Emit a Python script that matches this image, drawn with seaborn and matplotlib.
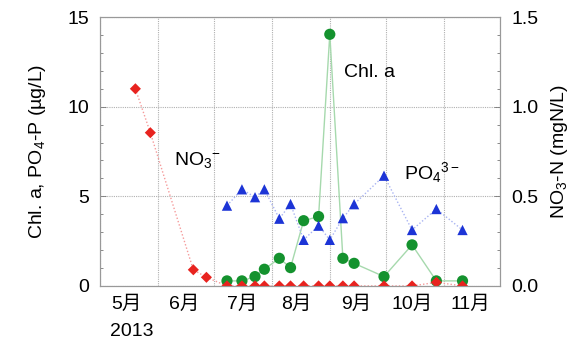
import matplotlib
matplotlib.use("Agg")
import matplotlib.pyplot as plt
import matplotlib.dates as mdates
from matplotlib.ticker import MultipleLocator
import seaborn as sns
import pandas as pd

sns.set_theme(style="white")
plt.rcParams['font.family'] = ['Liberation Sans', 'Noto Sans CJK JP', 'DejaVu Sans']
plt.rcParams['mathtext.fontset'] = 'custom'
plt.rcParams['mathtext.rm'] = 'Liberation Sans'
plt.rcParams['mathtext.it'] = 'Liberation Sans'
plt.rcParams['text.color'] = 'black'
plt.rcParams['axes.labelcolor'] = 'black'

# PO4-P (µg/L), left axis
po4_dates = ['2013-05-20', '2013-05-28', '2013-06-20', '2013-06-27',
             '2013-07-08', '2013-07-16', '2013-07-23', '2013-07-28',
             '2013-08-05', '2013-08-11', '2013-08-18', '2013-08-26',
             '2013-09-01', '2013-09-08', '2013-09-14', '2013-09-30',
             '2013-10-15', '2013-10-28', '2013-11-11']
po4_vals = [11.0, 8.55, 0.9, 0.48, 0.0, 0.0, 0.0, 0.0, 0.0, 0.0, 0.0, 0.0,
            0.0, 0.0, 0.0, 0.0, 0.0, 0.2, 0.0]

# Chl. a (µg/L), left axis
chl_dates = ['2013-07-08', '2013-07-16', '2013-07-23', '2013-07-28',
             '2013-08-05', '2013-08-11', '2013-08-18', '2013-08-26',
             '2013-09-01', '2013-09-08', '2013-09-14', '2013-09-30',
             '2013-10-15', '2013-10-28', '2013-11-11']
chl_vals = [0.28, 0.28, 0.52, 0.93, 1.54, 1.02, 3.64, 3.87, 14.04,
            1.54, 1.26, 0.52, 2.29, 0.28, 0.28]

# NO3-N (mgN/L), right axis
no3_dates = chl_dates
no3_vals = [0.448, 0.539, 0.495, 0.539, 0.375, 0.457, 0.257, 0.336, 0.257,
            0.378, 0.456, 0.615, 0.312, 0.429, 0.312]

month_labels = ['5月', '6月', '7月', '8月', '9月', '10月', '11月']
month_label_dates = ['2013-05-15', '2013-06-15', '2013-07-16', '2013-08-14',
                     '2013-09-15', '2013-10-15', '2013-11-15']

po4 = pd.DataFrame({'date': pd.to_datetime(po4_dates), 'v': po4_vals})
chl = pd.DataFrame({'date': pd.to_datetime(chl_dates), 'v': chl_vals})
no3 = pd.DataFrame({'date': pd.to_datetime(no3_dates), 'v': no3_vals})

fig = plt.figure(figsize=(5.84, 3.42), dpi=100)
ax = fig.add_axes([0.171, 0.164, 0.685, 0.786])
ax2 = ax.twinx()

red_m, red_l = '#e8231f', '#f59a9a'
grn_m, grn_l = '#14922e', '#a6d9ad'
blu_m, blu_l = '#1c34d6', '#a9b4f2'

sns.lineplot(data=chl, x='date', y='v', ax=ax, color=grn_l, lw=1.0, zorder=2)
sns.scatterplot(data=chl, x='date', y='v', ax=ax, color=grn_m, marker='o',
                s=65, edgecolor='none', zorder=4)
sns.lineplot(data=po4, x='date', y='v', ax=ax, color=red_l, lw=1.0,
             linestyle=(0, (1, 1.5)), zorder=2)
sns.scatterplot(data=po4, x='date', y='v', ax=ax, color=red_m, marker='D',
                s=32, edgecolor='none', zorder=5)
sns.lineplot(data=no3, x='date', y='v', ax=ax2, color=blu_l, lw=1.0,
             linestyle=(0, (1, 1.5)), zorder=2)
sns.scatterplot(data=no3, x='date', y='v', ax=ax2, color=blu_m, marker='^',
                s=55, edgecolor='none', zorder=4)

ax.set_xlim(pd.Timestamp('2013-05-01'), pd.Timestamp('2013-12-01'))
ax.set_ylim(0, 15)
ax2.set_ylim(0, 1.5)

ax.xaxis.set_major_locator(mdates.MonthLocator())
ax.xaxis.set_major_formatter(plt.NullFormatter())
ax.set_xticks(pd.to_datetime(month_label_dates), minor=True)
ax.set_xticklabels(month_labels, minor=True)
ax.tick_params(axis='x', which='both', length=0, labelsize=14, pad=7, colors='black')

ax.yaxis.set_major_locator(MultipleLocator(5))
ax.yaxis.set_minor_locator(MultipleLocator(1))
ax2.set_yticks([0, 0.5, 1.0, 1.5])
ax2.set_yticklabels(['0.0', '0.5', '1.0', '1.5'])
ax2.yaxis.set_minor_locator(MultipleLocator(0.1))
ax.tick_params(axis='y', which='both', left=True, right=False,
               labelleft=True, labelright=False)
ax2.tick_params(axis='y', which='both', left=False, right=True,
                labelleft=False, labelright=True)
for a in (ax, ax2):
    a.tick_params(axis='y', which='major', direction='in', length=4, width=0.6,
                  labelsize=14, pad=8, labelcolor='black', color='#777777')
    a.tick_params(axis='y', which='minor', direction='in', length=2.5,
                  width=0.6, color='#777777')

ax.grid(True, which='major', axis='both', color='#b0b0b0',
        linestyle=(0, (1, 1)), lw=0.8)
ax.set_axisbelow(True)

for a in (ax, ax2):
    for s in a.spines.values():
        s.set_color('#999999')
        s.set_linewidth(0.8)

ax.set_xlabel('')
ax.set_ylabel('Chl. a, PO$_4$-P (µg/L)', fontsize=14, labelpad=14)
ax2.set_ylabel('NO$_3$-N (mgN/L)', fontsize=14, labelpad=8)

ax.text(pd.Timestamp('2013-05-18'), -2.55, '2013', fontsize=14,
        ha='center', va='center', clip_on=False)

ax.text(0.185, 0.47, 'NO$_3$$^{-}$', transform=ax.transAxes, fontsize=14,
        ha='left', va='center')
ax.text(0.61, 0.795, 'Chl. a', transform=ax.transAxes, fontsize=14,
        ha='left', va='center')
ax.text(0.76, 0.42, 'PO$_4$$^{3-}$', transform=ax.transAxes, fontsize=14,
        ha='left', va='center')

fig.savefig('out.png', dpi=100)
